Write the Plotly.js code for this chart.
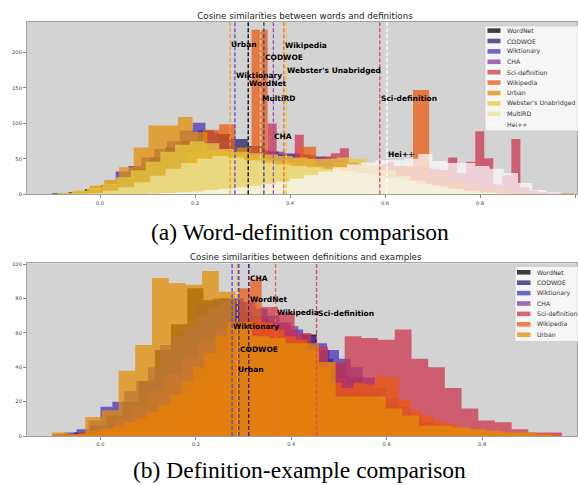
<!DOCTYPE html>
<html><head><meta charset="utf-8">
<script src="https://cdn.plot.ly/plotly-3.0.1.min.js"></script>
<style>html,body{margin:0;padding:0;background:#fff}#chart{width:578px;height:485px}</style>
</head><body><div id="chart"></div>
<script>
// ================= DATA =================
const topSeries = ['WordNet','CODWOE','Wiktionary','CHA','Sci-definition','Wikipedia','Urban',"Webster's Unabridged",'MultiRD','Hei++'];
const bottomSeries = ['WordNet','CODWOE','Wiktionary','CHA','Sci-definition','Wikipedia','Urban'];

// histogram bins: left edge of first bin, bin width, counts per bin
const topBinStart = [-0.100,-0.085,-0.102,-0.073,0.163,0.013,-0.084,-0.090,-0.060,0.100];
const topBinWidth = [0.034,0.033,0.027,0.033,0.019,0.034,0.031,0.031,0.033,0.030];
const topWordNet    = [1,3,7,13,22,36,52,66,76,90,85,62,58,60,55,52,48,42,34,26,18,12,7,4,2,1];
const topCODWOE     = [1,2,5,11,19,30,44,58,68,76,80,78,68,60,57,56,53,48,42,34,26,18,11,6,3,1];
const topWiktionary = [1,2,4,7,13,32,40,52,64,75,90,101,88,75,62,58,55,50,46,42,40,35,28,20,14,9,5,3,1];
const topCHA        = [1,2,5,9,15,23,33,43,52,58,62,64,62,60,58,55,53,48,42,35,27,19,12,7,3,1];
const topSciDef     = [2,3,5,6,8,10,14,18,22,30,100,40,45,84,50,48,53,58,65,45,42,40,42,46,40,38,40,38,36,34,52,30,46,89,51,14,27,78,10,5,3,1];
const topWikipedia  = [3,6,12,20,35,60,91,99,55,232,45,50,67,40,45,35,30,38,40,147,30,20,15,10,6,4,2,1,2];
const topUrban      = [2,5,12,20,38,66,97,97,109,88,62,60,66,52,48,45,42,40,34,28,22,16,11,7,4,2,1];
const topWebster    = [2,5,9,15,24,34,46,60,70,75,72,64,60,58,56,54,52,50,50,52,50,42,34,26,19,13,8,4,2,1];
const topMultiRD    = [1,2,5,10,17,26,36,44,50,54,52,48,45,42,40,38,36,33,30,27,23,19,15,11,8,5,3,1];
const topHei        = [1,2,3,4,6,8,10,12,15,18,22,27,32,38,42,45,48,48,50,57,47,44,44,40,36,30,16,6,3,1];
const topMeans  = [0.312,0.345,0.284,0.365,0.589,0.387,0.274,0.392,0.338,0.604];
const topLabelY = [156.5,193.5,167,81.4,134.6,210,212,174,134.6,55.5];

const botBinStart = [-0.090,-0.080,-0.100,-0.075,-0.083,-0.094,-0.102];
const botBinWidth = [0.034,0.035,0.025,0.035,0.035,0.024,0.035];
const botWordNet    = [1,2,6,12,20,32,50,65,86,79,80,72,68,62,55,59,45,35,25,18,12,8,5,3,2,1,2];
const botCODWOE     = [1,2,5,11,19,30,45,60,76,80,78,70,65,60,56,50,42,34,26,19,13,8,5,3,2,1];
const botWiktionary = [1,2,4,9,17,20,26,32,40,53,58,64,70,75,78,80,78,74,70,66,62,58,54,50,45,40,34,28,22,17,12,8,5,3,2,1];
const botCHA        = [1,2,5,10,17,26,36,46,55,62,66,68,66,64,50,42,34,26,19,13,8,5,3,2,1];
const botSciDef     = [1,1,2,4,7,11,16,23,32,42,56,68,75,72,60,52,43,58,57,56,62,45,40,28,16,9,8,4,2,2];
const botWikipedia  = [1,1,2,3,4,6,8,10,14,18,24,32,40,48,58,66,86,91,66,62,58,56,50,40,31,28,31,30,35,34,21,15,12,9,7,5,4,3,2,2,1,1,1,1];
const botUrban      = [2,1,11,15,38,53,92,89,88,96,84,66,58,57,54,54,43,23,23,23,16,12,6,6,5,4,3,2,2,1];
const botMeans  = [0.311,0.290,0.276,0.312,0.453,0.367,0.287];
const botLabelY = [79.3,50.5,64,91.5,71,72,38.5];

const xTicks = [0,0.2,0.4,0.6,0.8,1.0];

// ================= STYLE =================
const fillColors = ['#000000','#23236a','#4a33bb','#863b9b','#cc364e','#eb5b14','#e38e07','#e6ca40','#ebe396','#f8f8f8'];
const lineColors = ['#000000','#3a3aa0','#5b48d6','#9b4fb5','#e04a5e','#f26a2e','#f5a020','#f5c832','#efe58a','#ffffff'];
const OPACITY = 0.75;

const topCounts = [topWordNet,topCODWOE,topWiktionary,topCHA,topSciDef,topWikipedia,topUrban,topWebster,topMultiRD,topHei];
const botCounts = [botWordNet,botCODWOE,botWiktionary,botCHA,botSciDef,botWikipedia,botUrban];

function rgba(hex, a) {
  const n = parseInt(hex.slice(1), 16);
  return 'rgba(' + ((n>>16)&255) + ',' + ((n>>8)&255) + ',' + (n&255) + ',' + a + ')';
}

// step-filled histogram (like matplotlib histtype='stepfilled')
function stepHist(name, start, width, counts, color, xa, ya) {
  const x = [], y = [];
  counts.forEach((c, i) => { x.push(start + width*i); y.push(c); });
  const end = start + width*counts.length;
  x.push(end); y.push(counts[counts.length-1]);
  x.push(end); y.push(0);
  return {type:'scatter', mode:'lines', name:name, x:x, y:y, xaxis:xa, yaxis:ya,
    line:{shape:'hv', width:0, color:color}, fill:'tozeroy', fillcolor:rgba(color, OPACITY),
    showlegend:false, hoverinfo:'skip'};
}

const traces = [];
topSeries.forEach((n,i) => traces.push(stepHist(n, topBinStart[i], topBinWidth[i], topCounts[i], fillColors[i], 'x', 'y')));
bottomSeries.forEach((n,i) => traces.push(stepHist(n, botBinStart[i], botBinWidth[i], botCounts[i], fillColors[i], 'x2', 'y2')));

const W = 578, H = 485, ML = 27, MR = 1;
const px = v => (v - ML) / (W - ML - MR);
const py = v => (H - v) / H;

const shapes = [], annotations = [];
const labelFont = {family:'DejaVu Sans', size:7.5, color:'#000'};

function meanMarks(names, means, labelY, xa, ya) {
  names.forEach((n,i) => {
    shapes.push({type:'line', xref:xa, yref:ya+' domain', x0:means[i], x1:means[i], y0:0, y1:1,
      line:{color:lineColors[i], width:1.3, dash:'4px,2px'}, layer:'above'});
  });
  names.forEach((n,i) => {
    annotations.push({xref:xa, yref:ya, x:means[i], y:labelY[i], text:'<b>'+n+'</b>', showarrow:false,
      xanchor:'left', yanchor:'middle', font:labelFont, borderpad:0});
  });
}
meanMarks(topSeries, topMeans, topLabelY, 'x', 'y');
meanMarks(bottomSeries, botMeans, botLabelY, 'x2', 'y2');

function legendBox(names, boxL, boxT, boxB, swL, swR, txtL, row0, step) {
  shapes.push({type:'rect', xref:'paper', yref:'paper', x0:px(boxL), x1:px(W+6), y0:py(boxB), y1:py(boxT),
    fillcolor:'rgba(255,255,255,0.8)', line:{color:'#cccccc', width:0.8}, layer:'above'});
  names.forEach((n,i) => {
    const cy = row0 + step*i;
    shapes.push({type:'rect', xref:'paper', yref:'paper', x0:px(swL), x1:px(swR), y0:py(cy+2.3), y1:py(cy-2.3),
      fillcolor:fillColors[i], opacity:OPACITY, line:{width:0}, layer:'above'});
    annotations.push({xref:'paper', yref:'paper', x:px(txtL), y:py(cy), text:n, showarrow:false,
      xanchor:'left', yanchor:'middle', font:{family:'DejaVu Sans', size:6.2, color:'#333'}, borderpad:0});
  });
}
legendBox(topSeries, 485, 26, 131, 487.5, 500.5, 506, 30.6, 10.4);
legendBox(bottomSeries, 515, 266.5, 341.5, 517, 530.5, 536, 272.3, 10.4);

annotations.push({xref:'paper', yref:'paper', x:px(305.5), y:py(256.7), text:'Cosine similarities between definitions and examples',
  showarrow:false, xanchor:'center', yanchor:'middle', font:{family:'DejaVu Sans', size:8.7, color:'#222'}});
annotations.push({xref:'paper', yref:'paper', x:px(299.5), y:py(232), text:'(a) Word-definition comparison',
  showarrow:false, xanchor:'center', yanchor:'middle', font:{family:'Liberation Serif', size:23.5, color:'#000'}});
annotations.push({xref:'paper', yref:'paper', x:px(299.5), y:py(470), text:'(b) Definition-example comparison',
  showarrow:false, xanchor:'center', yanchor:'middle', font:{family:'Liberation Serif', size:23.5, color:'#000'}});

const axBase = {showgrid:false, zeroline:false, showline:true, mirror:true, linecolor:'#a0a0a0', linewidth:1,
  ticks:'outside', ticklen:3, tickwidth:0.8, tickcolor:'#666', tickfont:{family:'DejaVu Sans', size:5.2, color:'#444'}};

const layout = {
  width:W, height:H, margin:{l:ML, r:MR, t:0, b:0}, paper_bgcolor:'#ffffff', plot_bgcolor:'#d3d3d3',
  showlegend:false,
  title:{text:'Cosine similarities between words and definitions', font:{family:'DejaVu Sans', size:8.7, color:'#222'},
    xref:'container', yref:'container', x:305/W, y:1-15.7/H, xanchor:'center', yanchor:'middle'},
  xaxis: Object.assign({}, axBase, {domain:[0,1], anchor:'y', range:[-0.1537,1.0042], tickvals:xTicks, tickformat:'.1f'}),
  yaxis: Object.assign({}, axBase, {domain:[py(194.3), py(21.5)], anchor:'x', range:[0,243.8], tickvals:[0,50,100,150,200]}),
  xaxis2: Object.assign({}, axBase, {domain:[0,1], anchor:'y2', range:[-0.154,0.999], tickvals:xTicks, tickformat:'.1f'}),
  yaxis2: Object.assign({}, axBase, {domain:[py(436), py(263.3)], anchor:'x2', range:[0,100.5], tickvals:[0,20,40,60,80,100]}),
  shapes:shapes, annotations:annotations
};
Plotly.newPlot('chart', traces, layout, {staticPlot:true, displayModeBar:false});
</script></body></html>
